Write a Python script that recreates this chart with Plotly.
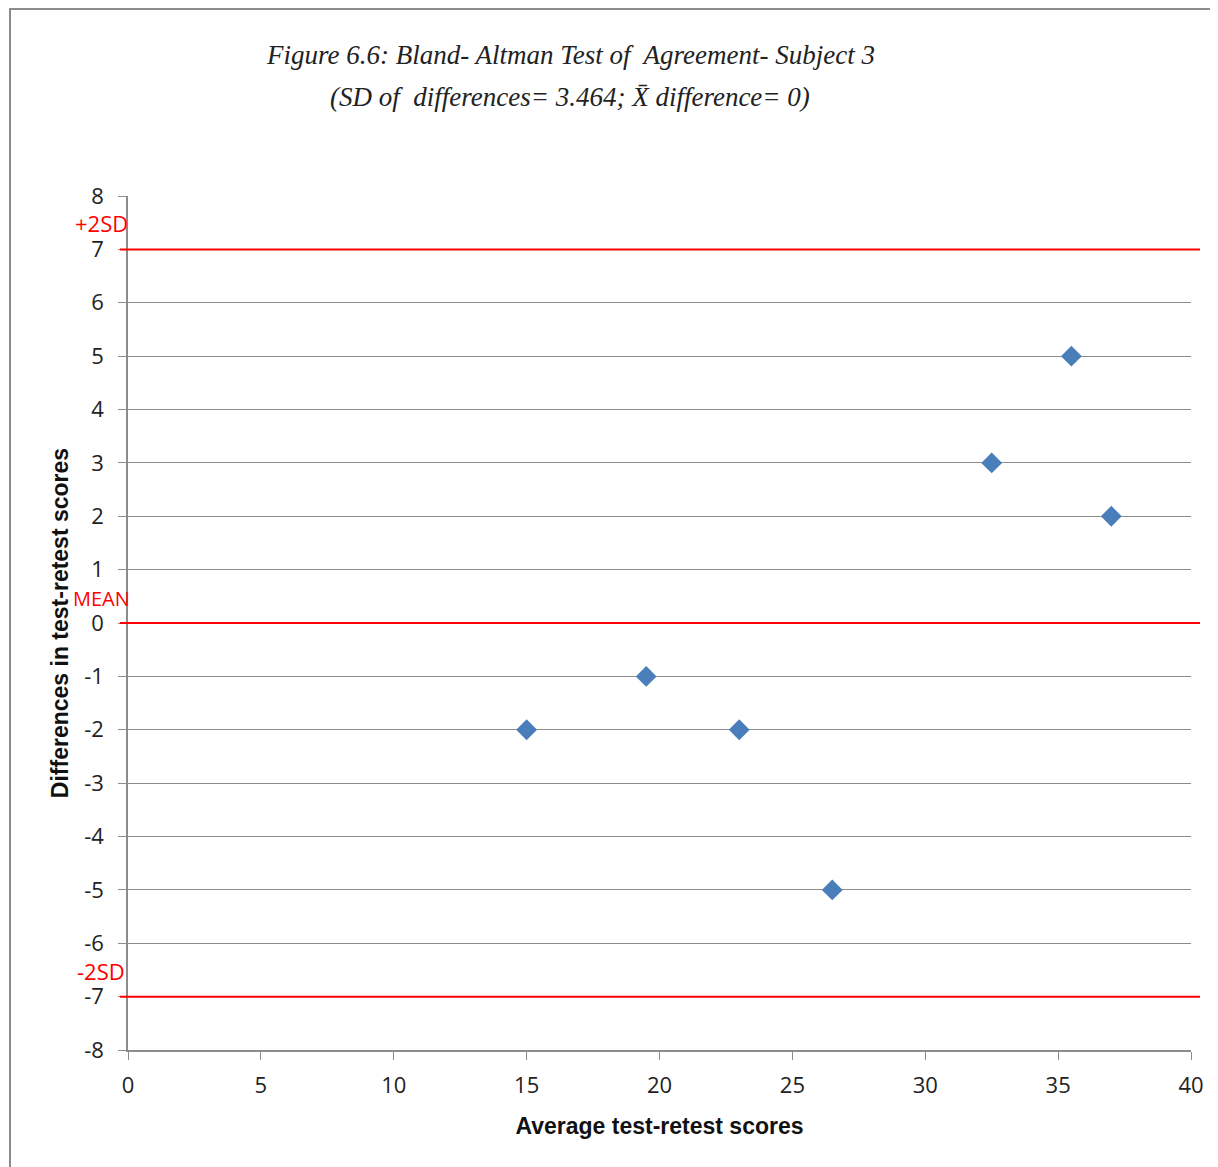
import plotly.graph_objects as go

# Data
avg_scores = [15, 19.5, 23, 26.5, 32.5, 35.5, 37]
differences = [-2, -1, -2, -5, 3, 5, 2]
mean_diff = 0
upper_limit = 7
lower_limit = -7
x_ticks = [0, 5, 10, 15, 20, 25, 30, 35, 40]
y_ticks = list(range(-8, 9))
y_tick_labels = [str(v) for v in y_ticks]

title_line1 = "Figure 6.6: Bland- Altman Test of  Agreement- Subject 3"
title_line2 = "(SD of  differences= 3.464; X\u0304 difference= 0)"

OFF = 8  # default body margin of the page
W, H = 1218 - OFF, 1167 - OFF
# plot area in page pixels: left 128, right 1191, top 196, bottom 1050
ml, mt = 128 - OFF, 196 - OFF
mr = W - (1191 - OFF)
mb = H - (1050 - OFF)
pw, ph = W - ml - mr, H - mt - mb

def px_to_paper_x(px):
    return (px - OFF - ml) / pw

def px_to_paper_y(py):
    return (H - mb - (py - OFF)) / ph

fig = go.Figure()
fig.add_trace(go.Scatter(
    x=avg_scores, y=differences, mode="markers",
    marker=dict(symbol="diamond", size=16, color="#4a7ebb"),
    showlegend=False, cliponaxis=False,
))

red = "#ff0000"
for val in [upper_limit, mean_diff, lower_limit]:
    fig.add_shape(type="line", xref="paper", yref="y",
                  x0=px_to_paper_x(120), x1=px_to_paper_x(1200), y0=val, y1=val,
                  line=dict(color=red, width=2), layer="above")

# outer frame
fig.add_shape(type="rect", xref="paper", yref="paper",
              x0=px_to_paper_x(10), x1=px_to_paper_x(1240),
              y0=px_to_paper_y(1190), y1=px_to_paper_y(9),
              line=dict(color="#8c8c8c", width=2), layer="below")

title_font = dict(family="Liberation Serif, serif", size=27, color="#222222", style="italic")
fig.add_annotation(text=title_line1, xref="paper", yref="paper",
                   x=px_to_paper_x(570), y=px_to_paper_y(55), showarrow=False,
                   font=title_font, xanchor="center", yanchor="middle")
fig.add_annotation(text=title_line2, xref="paper", yref="paper",
                   x=px_to_paper_x(570), y=px_to_paper_y(97), showarrow=False,
                   font=title_font, xanchor="center", yanchor="middle")

lab_font = dict(family="Open Sans, sans-serif", size=22, color=red)
fig.add_annotation(text="+2SD", xref="paper", yref="y", x=px_to_paper_x(130), y=7.5,
                   showarrow=False, font=lab_font, xanchor="right", yanchor="middle")
fig.add_annotation(text="MEAN", xref="paper", yref="y", x=px_to_paper_x(132), y=0.45,
                   showarrow=False, font=dict(lab_font, size=20), xanchor="right", yanchor="middle")
fig.add_annotation(text="-2SD", xref="paper", yref="y", x=px_to_paper_x(127), y=-6.52,
                   showarrow=False, font=lab_font, xanchor="right", yanchor="middle")

tick_font = dict(family="Open Sans, sans-serif", size=22, color="#222222")
axis_title_font = dict(family="Liberation Sans, Arial, sans-serif", size=23, color="#111111", weight="bold")

fig.update_xaxes(range=[0, 40], tickvals=x_ticks, showgrid=False, zeroline=False,
                 showline=True, linecolor="#8c8c8c", linewidth=1.5,
                 ticks="outside", ticklen=8, tickcolor="#8c8c8c", tickfont=tick_font,
                 ticklabelstandoff=7,
                 title=dict(text="Average test-retest scores", font=axis_title_font, standoff=20))
fig.update_yaxes(range=[-8, 8], tickvals=y_ticks, ticktext=y_tick_labels,
                 showgrid=True, gridcolor="#8c8c8c", gridwidth=1,
                 zeroline=False, showline=True, linecolor="#8c8c8c", linewidth=1.5,
                 ticks="outside", ticklen=8, tickcolor="#8c8c8c", tickfont=tick_font,
                 ticklabelstandoff=10,
                 title=dict(text="Differences in test-retest scores", font=axis_title_font, standoff=9))

fig.update_layout(width=W, height=H, margin=dict(l=ml, r=mr, t=mt, b=mb),
                  plot_bgcolor="white", paper_bgcolor="white")

fig.write_html("out.html")
